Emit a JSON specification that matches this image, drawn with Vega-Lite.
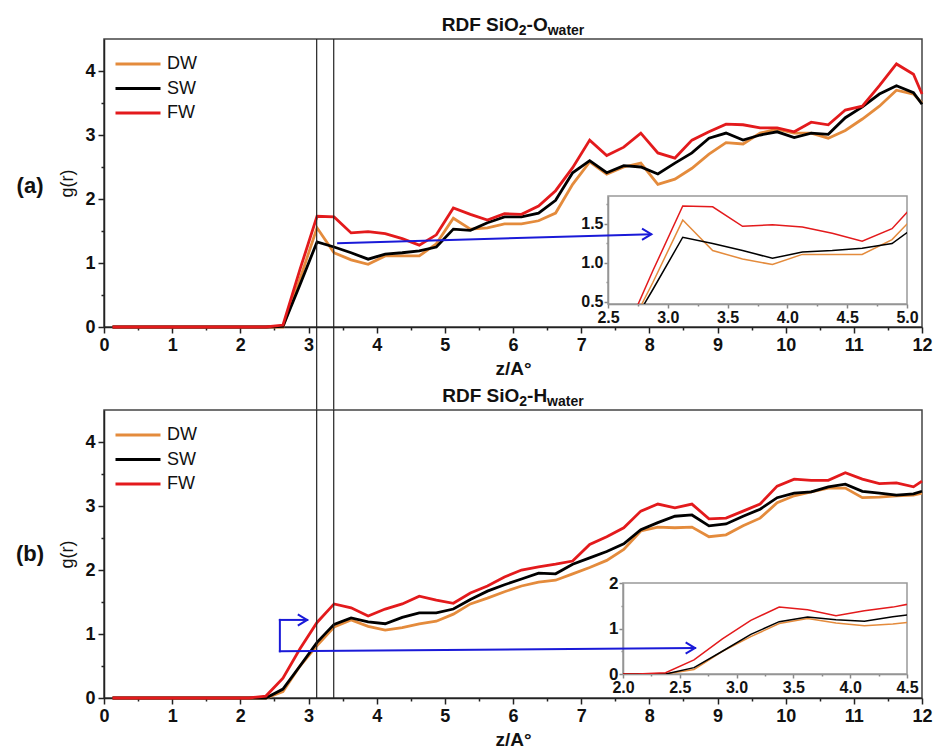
{
  "$schema": "https://vega.github.io/schema/vega-lite/v6.json",
  "background": "white",
  "padding": {"left": 15, "top": 15, "right": 5, "bottom": 2},
  "config": {
    "font": "Liberation Sans",
    "view": {"stroke": "#444", "strokeWidth": 1.5},
    "axis": {"labelFont": "Liberation Sans", "labelFontWeight": "bold", "labelColor": "#111", "domainColor": "#222", "domainWidth": 1.5, "tickColor": "#222", "tickWidth": 1.5, "grid": false, "titleFont": "Liberation Sans", "titleColor": "#111", "zindex": 1, "labelOverlap": false, "labelFlush": false}
  },
  "datasets": {
    "a": [
      {"z": 0.125, "DW": 0, "SW": 0, "FW": 0},
      {"z": 0.375, "DW": 0, "SW": 0, "FW": 0},
      {"z": 0.625, "DW": 0, "SW": 0, "FW": 0},
      {"z": 0.875, "DW": 0, "SW": 0, "FW": 0},
      {"z": 1.125, "DW": 0, "SW": 0, "FW": 0},
      {"z": 1.375, "DW": 0, "SW": 0, "FW": 0},
      {"z": 1.625, "DW": 0, "SW": 0, "FW": 0},
      {"z": 1.875, "DW": 0, "SW": 0, "FW": 0},
      {"z": 2.125, "DW": 0, "SW": 0, "FW": 0},
      {"z": 2.375, "DW": 0, "SW": 0, "FW": 0},
      {"z": 2.625, "DW": 0, "SW": 0.01, "FW": 0.03},
      {"z": 2.875, "DW": 0.75, "SW": 0.66, "FW": 0.9},
      {"z": 3.125, "DW": 1.55, "SW": 1.33, "FW": 1.73},
      {"z": 3.375, "DW": 1.16, "SW": 1.25, "FW": 1.72},
      {"z": 3.625, "DW": 1.05, "SW": 1.16, "FW": 1.47},
      {"z": 3.875, "DW": 0.98, "SW": 1.06, "FW": 1.49},
      {"z": 4.125, "DW": 1.11, "SW": 1.14, "FW": 1.46},
      {"z": 4.375, "DW": 1.11, "SW": 1.16, "FW": 1.38},
      {"z": 4.625, "DW": 1.11, "SW": 1.19, "FW": 1.28},
      {"z": 4.875, "DW": 1.3, "SW": 1.25, "FW": 1.44},
      {"z": 5.125, "DW": 1.7, "SW": 1.53, "FW": 1.86},
      {"z": 5.375, "DW": 1.53, "SW": 1.51, "FW": 1.76},
      {"z": 5.625, "DW": 1.55, "SW": 1.63, "FW": 1.67},
      {"z": 5.875, "DW": 1.61, "SW": 1.72, "FW": 1.77},
      {"z": 6.125, "DW": 1.61, "SW": 1.72, "FW": 1.76},
      {"z": 6.375, "DW": 1.66, "SW": 1.78, "FW": 1.89},
      {"z": 6.625, "DW": 1.78, "SW": 1.98, "FW": 2.13},
      {"z": 6.875, "DW": 2.23, "SW": 2.41, "FW": 2.49},
      {"z": 7.125, "DW": 2.58, "SW": 2.6, "FW": 2.92},
      {"z": 7.375, "DW": 2.39, "SW": 2.41, "FW": 2.68},
      {"z": 7.625, "DW": 2.5, "SW": 2.52, "FW": 2.81},
      {"z": 7.875, "DW": 2.56, "SW": 2.5, "FW": 3.03},
      {"z": 8.125, "DW": 2.23, "SW": 2.39, "FW": 2.72},
      {"z": 8.375, "DW": 2.31, "SW": 2.56, "FW": 2.64},
      {"z": 8.625, "DW": 2.48, "SW": 2.72, "FW": 2.92},
      {"z": 8.875, "DW": 2.7, "SW": 2.95, "FW": 3.05},
      {"z": 9.125, "DW": 2.88, "SW": 3.03, "FW": 3.17},
      {"z": 9.375, "DW": 2.86, "SW": 2.92, "FW": 3.16},
      {"z": 9.625, "DW": 3.03, "SW": 3.0, "FW": 3.11},
      {"z": 9.875, "DW": 3.09, "SW": 3.05, "FW": 3.11},
      {"z": 10.125, "DW": 3.03, "SW": 2.96, "FW": 3.05},
      {"z": 10.375, "DW": 3.03, "SW": 3.03, "FW": 3.2},
      {"z": 10.625, "DW": 2.95, "SW": 3.01, "FW": 3.16},
      {"z": 10.875, "DW": 3.07, "SW": 3.27, "FW": 3.39},
      {"z": 11.125, "DW": 3.25, "SW": 3.44, "FW": 3.45},
      {"z": 11.375, "DW": 3.45, "SW": 3.64, "FW": 3.77},
      {"z": 11.625, "DW": 3.7, "SW": 3.77, "FW": 4.11},
      {"z": 11.875, "DW": 3.64, "SW": 3.66, "FW": 3.95},
      {"z": 12.0, "DW": 3.5, "SW": 3.48, "FW": 3.64}
    ],
    "b": [
      {"z": 0.125, "DW": 0, "SW": 0, "FW": 0},
      {"z": 0.375, "DW": 0, "SW": 0, "FW": 0},
      {"z": 0.625, "DW": 0, "SW": 0, "FW": 0},
      {"z": 0.875, "DW": 0, "SW": 0, "FW": 0},
      {"z": 1.125, "DW": 0, "SW": 0, "FW": 0},
      {"z": 1.375, "DW": 0, "SW": 0, "FW": 0},
      {"z": 1.625, "DW": 0, "SW": 0, "FW": 0},
      {"z": 1.875, "DW": 0, "SW": 0, "FW": 0},
      {"z": 2.125, "DW": 0, "SW": 0, "FW": 0},
      {"z": 2.375, "DW": 0, "SW": 0, "FW": 0.03},
      {"z": 2.625, "DW": 0.1, "SW": 0.14, "FW": 0.31},
      {"z": 2.875, "DW": 0.5, "SW": 0.5, "FW": 0.77},
      {"z": 3.125, "DW": 0.82, "SW": 0.87, "FW": 1.18},
      {"z": 3.375, "DW": 1.11, "SW": 1.15, "FW": 1.47},
      {"z": 3.625, "DW": 1.22, "SW": 1.25, "FW": 1.41},
      {"z": 3.875, "DW": 1.12, "SW": 1.19, "FW": 1.28},
      {"z": 4.125, "DW": 1.06, "SW": 1.16, "FW": 1.39},
      {"z": 4.375, "DW": 1.1, "SW": 1.26, "FW": 1.47},
      {"z": 4.625, "DW": 1.16, "SW": 1.33, "FW": 1.59},
      {"z": 4.875, "DW": 1.2, "SW": 1.33, "FW": 1.53},
      {"z": 5.125, "DW": 1.31, "SW": 1.39, "FW": 1.48},
      {"z": 5.375, "DW": 1.47, "SW": 1.54, "FW": 1.64},
      {"z": 5.625, "DW": 1.56, "SW": 1.67, "FW": 1.75},
      {"z": 5.875, "DW": 1.66, "SW": 1.77, "FW": 1.89},
      {"z": 6.125, "DW": 1.75, "SW": 1.86, "FW": 2.0},
      {"z": 6.375, "DW": 1.81, "SW": 1.95, "FW": 2.05},
      {"z": 6.625, "DW": 1.84, "SW": 1.94, "FW": 2.09},
      {"z": 6.875, "DW": 1.94, "SW": 2.09, "FW": 2.14},
      {"z": 7.125, "DW": 2.04, "SW": 2.19, "FW": 2.4},
      {"z": 7.375, "DW": 2.15, "SW": 2.29, "FW": 2.52},
      {"z": 7.625, "DW": 2.32, "SW": 2.41, "FW": 2.66},
      {"z": 7.875, "DW": 2.61, "SW": 2.63, "FW": 2.92},
      {"z": 8.125, "DW": 2.67, "SW": 2.74, "FW": 3.03},
      {"z": 8.375, "DW": 2.66, "SW": 2.84, "FW": 2.97},
      {"z": 8.625, "DW": 2.67, "SW": 2.86, "FW": 3.03},
      {"z": 8.875, "DW": 2.52, "SW": 2.69, "FW": 2.8},
      {"z": 9.125, "DW": 2.55, "SW": 2.72, "FW": 2.81},
      {"z": 9.375, "DW": 2.69, "SW": 2.84, "FW": 2.92},
      {"z": 9.625, "DW": 2.81, "SW": 2.95, "FW": 3.03},
      {"z": 9.875, "DW": 3.05, "SW": 3.13, "FW": 3.31},
      {"z": 10.125, "DW": 3.16, "SW": 3.2, "FW": 3.42},
      {"z": 10.375, "DW": 3.22, "SW": 3.22, "FW": 3.4},
      {"z": 10.625, "DW": 3.28, "SW": 3.3, "FW": 3.4},
      {"z": 10.875, "DW": 3.28, "SW": 3.34, "FW": 3.52},
      {"z": 11.125, "DW": 3.13, "SW": 3.23, "FW": 3.42},
      {"z": 11.375, "DW": 3.14, "SW": 3.2, "FW": 3.35},
      {"z": 11.625, "DW": 3.16, "SW": 3.17, "FW": 3.36},
      {"z": 11.875, "DW": 3.17, "SW": 3.19, "FW": 3.3},
      {"z": 12.0, "DW": 3.2, "SW": 3.23, "FW": 3.39}
    ]
  },
  "spacing": 83,
  "bounds": "flush",
  "resolve": {"scale": {"color": "independent"}},
  "vconcat": [
    {
      "width": 818,
      "height": 288,
      "resolve": {"scale": {"x": "independent", "y": "independent"}},
      "layer": [
        {
          "data": {"name": "a"},
          "transform": [{"fold": ["DW", "SW", "FW"], "as": ["s", "g"]}],
          "mark": {"type": "line", "strokeWidth": 2.8},
          "encoding": {
            "x": {"field": "z", "type": "quantitative", "scale": {"domain": [0, 12], "nice": false},
              "axis": {"orient": "bottom", "values": [0,0.5,1,1.5,2,2.5,3,3.5,4,4.5,5,5.5,6,6.5,7,7.5,8,8.5,9,9.5,10,10.5,11,11.5,12], "labelExpr": "datum.value % 1 === 0 ? format(datum.value, 'd') : ''", "tickSize": {"condition": {"test": "datum.value % 1 !== 0", "value": 3}, "value": 6}, "title": "z/A°", "titleFontSize": 19, "titleFontWeight": "bold", "labelFontSize": 18, "labelPadding": 3, "titlePadding": 5}},
            "y": {"field": "g", "type": "quantitative", "scale": {"domain": [0, 4.5], "nice": false},
              "axis": {"orient": "left", "values": [0,0.5,1,1.5,2,2.5,3,3.5,4], "labelExpr": "datum.value % 1 === 0 ? format(datum.value, 'd') : ''", "tickSize": {"condition": {"test": "datum.value % 1 !== 0", "value": 3}, "value": 6}, "title": "g(r)", "titleFontSize": 18, "titleFontWeight": "normal", "labelFontSize": 18, "labelPadding": 3, "titlePadding": 8}},
            "color": {"field": "s", "type": "nominal", "scale": {"domain": ["DW", "SW", "FW"], "range": ["#E48B3C", "#000000", "#E31A1C"]},
              "legend": {"orient": "none", "legendX": 10, "legendY": 15, "title": null, "symbolType": "stroke", "symbolSize": 2025, "symbolStrokeWidth": 3, "labelFontSize": 18, "labelFontWeight": "normal", "labelFont": "Liberation Sans", "labelColor": "#111", "clipHeight": 20, "rowPadding": 4.5, "padding": 0, "labelOffset": 5}}
          }
        },
        {
          "data": {"values": [{"z": 3.12}, {"z": 3.37}]},
          "mark": {"type": "rule", "color": "#222", "strokeWidth": 1.2},
          "encoding": {
            "x": {"field": "z", "type": "quantitative", "scale": {"domain": [0, 12], "nice": false}, "axis": null},
            "y": {"datum": 4.5, "type": "quantitative", "scale": {"domain": [0, 4.5], "nice": false}, "axis": null},
            "y2": {"datum": -1.3}
          }
        },
        {
          "data": {"values": [{}]},
          "encoding": {
            "x": {"datum": 6, "type": "quantitative", "scale": {"domain": [0, 12], "nice": false}, "axis": null},
            "y": {"datum": 4.5, "type": "quantitative", "scale": {"domain": [0, 4.5], "nice": false}, "axis": null}
          },
          "layer": [
            {"mark": {"type": "text", "text": "RDF SiO", "align": "left", "baseline": "alphabetic", "dx": -71.3, "dy": -8, "fontSize": 19, "fontWeight": "bold", "font": "Liberation Sans", "color": "#111"}},
            {"mark": {"type": "text", "text": "2", "align": "left", "baseline": "alphabetic", "dx": 5.8, "dy": -4, "fontSize": 14, "fontWeight": "bold", "font": "Liberation Sans", "color": "#111"}},
            {"mark": {"type": "text", "text": "-O", "align": "left", "baseline": "alphabetic", "dx": 13.6, "dy": -8, "fontSize": 19, "fontWeight": "bold", "font": "Liberation Sans", "color": "#111"}},
            {"mark": {"type": "text", "text": "water", "align": "left", "baseline": "alphabetic", "dx": 34.7, "dy": -4, "fontSize": 14, "fontWeight": "bold", "font": "Liberation Sans", "color": "#111"}}
          ]
        },
        {
          "data": {"values": [{}]},
          "mark": {"type": "text", "text": "(a)", "align": "center", "baseline": "middle", "fontSize": 22, "fontWeight": "bold", "font": "Liberation Sans", "color": "#111"},
          "encoding": {
            "x": {"datum": -1.085, "type": "quantitative", "scale": {"domain": [0, 12], "nice": false}, "axis": null},
            "y": {"datum": 2.2, "type": "quantitative", "scale": {"domain": [0, 4.5], "nice": false}, "axis": null}
          }
        },
        {
          "encoding": {
            "x": {"type": "quantitative", "scale": {"domain": [2.5, 5], "range": [504, 803], "nice": false, "zero": false},
              "axis": {"orient": "bottom", "offset": -23, "values": [2.5,2.75,3,3.25,3.5,3.75,4,4.25,4.5,4.75,5], "labelExpr": "(datum.value*2) % 1 === 0 ? format(datum.value, '.1f') : ''", "tickSize": {"condition": {"test": "(datum.value*2) % 1 !== 0", "value": 2}, "value": 4}, "title": null, "labelFontSize": 16, "labelPadding": 1, "domainColor": "#888", "tickColor": "#888"}},
            "y": {"type": "quantitative", "scale": {"domain": [0.474, 1.859], "range": [265, 157], "nice": false, "zero": false},
              "axis": {"orient": "left", "offset": -504, "values": [0.5,0.75,1,1.25,1.5,1.75], "labelExpr": "(datum.value*2) % 1 === 0 ? format(datum.value, '.1f') : ''", "tickSize": {"condition": {"test": "(datum.value*2) % 1 !== 0", "value": 2}, "value": 4}, "title": null, "labelFontSize": 16, "labelPadding": 1, "domainColor": "#888", "tickColor": "#888"}}
          },
          "layer": [
            {
              "data": {"values": [{}]},
              "mark": {"type": "rect", "fillOpacity": 0, "stroke": "#999", "strokeWidth": 1.5},
              "encoding": {"x": {"datum": 2.5}, "x2": {"datum": 5}, "y": {"datum": 0.474}, "y2": {"datum": 1.859}}
            },
            {
              "data": {"name": "a"},
              "transform": [{"filter": "datum.z >= 2.3 && datum.z <= 5.2"}, {"fold": ["DW", "SW", "FW"], "as": ["s", "g"]}],
              "mark": {"type": "line", "strokeWidth": 1.5, "clip": {"expr": "pathShape('M504,157H803V265H504Z')"}},
              "encoding": {
                "x": {"field": "z"},
                "y": {"field": "g"},
                "color": {"field": "s", "type": "nominal", "scale": {"domain": ["DW", "SW", "FW"], "range": ["#E48B3C", "#000000", "#E31A1C"]},
                  "legend": {"orient": "none", "legendX": 10, "legendY": 15, "title": null, "symbolType": "stroke", "symbolSize": 2025, "symbolStrokeWidth": 3, "labelFontSize": 18, "labelFontWeight": "normal", "labelFont": "Liberation Sans", "labelColor": "#111", "clipHeight": 20, "rowPadding": 4.5, "padding": 0, "labelOffset": 5}}
              }
            }
          ]
        },
        {
          "encoding": {
            "x": {"field": "x", "type": "quantitative", "scale": {"domain": [0, 12], "nice": false}, "axis": null},
            "y": {"field": "y", "type": "quantitative", "scale": {"domain": [0, 4.5], "nice": false}, "axis": null}
          },
          "layer": [
            {
              "data": {"values": [{"x": 3.42, "y": 1.31, "x2": 8.03, "y2": 1.45}]},
              "mark": {"type": "rule", "color": "#1A1AD8", "strokeWidth": 2},
              "encoding": {"x2": {"field": "x2"}, "y2": {"field": "y2"}}
            },
            {
              "data": {"values": [{"x": 8.03, "y": 1.45}]},
              "mark": {"type": "point", "shape": "M-1,-0.6L0,0L-1,0.6", "filled": false, "color": "#1A1AD8", "strokeWidth": 2, "size": 350, "opacity": 1}
            }
          ]
        }
      ]
    },
    {
      "width": 818,
      "height": 288,
      "resolve": {"scale": {"x": "independent", "y": "independent"}},
      "layer": [
        {
          "data": {"name": "b"},
          "transform": [{"fold": ["DW", "SW", "FW"], "as": ["s", "g"]}],
          "mark": {"type": "line", "strokeWidth": 2.8},
          "encoding": {
            "x": {"field": "z", "type": "quantitative", "scale": {"domain": [0, 12], "nice": false},
              "axis": {"orient": "bottom", "values": [0,0.5,1,1.5,2,2.5,3,3.5,4,4.5,5,5.5,6,6.5,7,7.5,8,8.5,9,9.5,10,10.5,11,11.5,12], "labelExpr": "datum.value % 1 === 0 ? format(datum.value, 'd') : ''", "tickSize": {"condition": {"test": "datum.value % 1 !== 0", "value": 3}, "value": 6}, "title": "z/A°", "titleFontSize": 19, "titleFontWeight": "bold", "labelFontSize": 18, "labelPadding": 3, "titlePadding": 5}},
            "y": {"field": "g", "type": "quantitative", "scale": {"domain": [0, 4.5], "nice": false},
              "axis": {"orient": "left", "values": [0,0.5,1,1.5,2,2.5,3,3.5,4], "labelExpr": "datum.value % 1 === 0 ? format(datum.value, 'd') : ''", "tickSize": {"condition": {"test": "datum.value % 1 !== 0", "value": 3}, "value": 6}, "title": "g(r)", "titleFontSize": 18, "titleFontWeight": "normal", "labelFontSize": 18, "labelPadding": 3, "titlePadding": 8}},
            "color": {"field": "s", "type": "nominal", "scale": {"domain": ["DW", "SW", "FW"], "range": ["#E48B3C", "#000000", "#E31A1C"]},
              "legend": {"orient": "none", "legendX": 10, "legendY": 15, "title": null, "symbolType": "stroke", "symbolSize": 2025, "symbolStrokeWidth": 3, "labelFontSize": 18, "labelFontWeight": "normal", "labelFont": "Liberation Sans", "labelColor": "#111", "clipHeight": 20, "rowPadding": 4.5, "padding": 0, "labelOffset": 5}}
          }
        },
        {
          "data": {"values": [{"z": 3.12}, {"z": 3.37}]},
          "mark": {"type": "rule", "color": "#222", "strokeWidth": 1.2},
          "encoding": {
            "x": {"field": "z", "type": "quantitative", "scale": {"domain": [0, 12], "nice": false}, "axis": null},
            "y": {"datum": 4.5, "type": "quantitative", "scale": {"domain": [0, 4.5], "nice": false}, "axis": null},
            "y2": {"datum": 0}
          }
        },
        {
          "data": {"values": [{}]},
          "encoding": {
            "x": {"datum": 6, "type": "quantitative", "scale": {"domain": [0, 12], "nice": false}, "axis": null},
            "y": {"datum": 4.5, "type": "quantitative", "scale": {"domain": [0, 4.5], "nice": false}, "axis": null}
          },
          "layer": [
            {"mark": {"type": "text", "text": "RDF SiO", "align": "left", "baseline": "alphabetic", "dx": -70.8, "dy": -8, "fontSize": 19, "fontWeight": "bold", "font": "Liberation Sans", "color": "#111"}},
            {"mark": {"type": "text", "text": "2", "align": "left", "baseline": "alphabetic", "dx": 6.3, "dy": -4, "fontSize": 14, "fontWeight": "bold", "font": "Liberation Sans", "color": "#111"}},
            {"mark": {"type": "text", "text": "-H", "align": "left", "baseline": "alphabetic", "dx": 14.1, "dy": -8, "fontSize": 19, "fontWeight": "bold", "font": "Liberation Sans", "color": "#111"}},
            {"mark": {"type": "text", "text": "water", "align": "left", "baseline": "alphabetic", "dx": 34.1, "dy": -4, "fontSize": 14, "fontWeight": "bold", "font": "Liberation Sans", "color": "#111"}}
          ]
        },
        {
          "data": {"values": [{}]},
          "mark": {"type": "text", "text": "(b)", "align": "center", "baseline": "middle", "fontSize": 22, "fontWeight": "bold", "font": "Liberation Sans", "color": "#111"},
          "encoding": {
            "x": {"datum": -1.085, "type": "quantitative", "scale": {"domain": [0, 12], "nice": false}, "axis": null},
            "y": {"datum": 2.25, "type": "quantitative", "scale": {"domain": [0, 4.5], "nice": false}, "axis": null}
          }
        },
        {
          "encoding": {
            "x": {"type": "quantitative", "scale": {"domain": [2, 4.5], "range": [519, 803], "nice": false, "zero": false},
              "axis": {"orient": "bottom", "offset": -24, "values": [2,2.25,2.5,2.75,3,3.25,3.5,3.75,4,4.25,4.5], "labelExpr": "(datum.value*2) % 1 === 0 ? format(datum.value, '.1f') : ''", "tickSize": {"condition": {"test": "(datum.value*2) % 1 !== 0", "value": 2}, "value": 4}, "title": null, "labelFontSize": 16, "labelPadding": 1, "domainColor": "#888", "tickColor": "#888"}},
            "y": {"type": "quantitative", "scale": {"domain": [0, 2], "range": [264, 173], "nice": false, "zero": false},
              "axis": {"orient": "left", "offset": -519, "values": [0,0.5,1,1.5,2], "labelExpr": "datum.value % 1 === 0 ? format(datum.value, 'd') : ''", "tickSize": {"condition": {"test": "datum.value % 1 !== 0", "value": 2}, "value": 4}, "title": null, "labelFontSize": 17, "labelPadding": 1, "domainColor": "#888", "tickColor": "#888"}}
          },
          "layer": [
            {
              "data": {"values": [{}]},
              "mark": {"type": "rect", "fillOpacity": 0, "stroke": "#999", "strokeWidth": 1.5},
              "encoding": {"x": {"datum": 2}, "x2": {"datum": 4.5}, "y": {"datum": 0}, "y2": {"datum": 2}}
            },
            {
              "data": {"name": "b"},
              "transform": [{"filter": "datum.z >= 1.8 && datum.z <= 4.7"}, {"fold": ["DW", "SW", "FW"], "as": ["s", "g"]}],
              "mark": {"type": "line", "strokeWidth": 1.5, "clip": {"expr": "pathShape('M519,173H803V264H519Z')"}},
              "encoding": {
                "x": {"field": "z"},
                "y": {"field": "g"},
                "color": {"field": "s", "type": "nominal", "scale": {"domain": ["DW", "SW", "FW"], "range": ["#E48B3C", "#000000", "#E31A1C"]},
                  "legend": {"orient": "none", "legendX": 10, "legendY": 15, "title": null, "symbolType": "stroke", "symbolSize": 2025, "symbolStrokeWidth": 3, "labelFontSize": 18, "labelFontWeight": "normal", "labelFont": "Liberation Sans", "labelColor": "#111", "clipHeight": 20, "rowPadding": 4.5, "padding": 0, "labelOffset": 5}}
              }
            }
          ]
        },
        {
          "encoding": {
            "x": {"field": "x", "type": "quantitative", "scale": {"domain": [0, 12], "nice": false}, "axis": null},
            "y": {"field": "y", "type": "quantitative", "scale": {"domain": [0, 4.5], "nice": false}, "axis": null}
          },
          "layer": [
            {
              "data": {"values": [{"x": 2.98, "y": 1.22, "x2": 2.58, "y2": 1.22}, {"x": 2.58, "y": 1.22, "x2": 2.58, "y2": 0.73}, {"x": 2.58, "y": 0.73, "x2": 8.67, "y2": 0.78}]},
              "mark": {"type": "rule", "color": "#1A1AD8", "strokeWidth": 2, "strokeCap": "square"},
              "encoding": {"x2": {"field": "x2"}, "y2": {"field": "y2"}}
            },
            {
              "data": {"values": [{"x": 2.98, "y": 1.22}, {"x": 8.67, "y": 0.78}]},
              "mark": {"type": "point", "shape": "M-1,-0.6L0,0L-1,0.6", "filled": false, "color": "#1A1AD8", "strokeWidth": 2, "size": 350, "opacity": 1}
            }
          ]
        }
      ]
    }
  ]
}
